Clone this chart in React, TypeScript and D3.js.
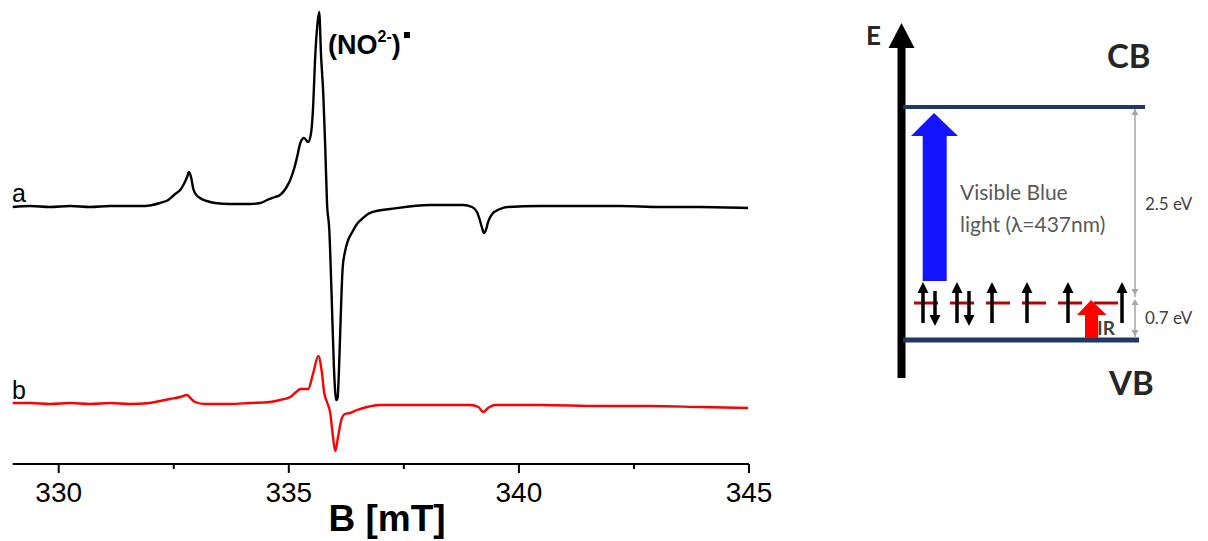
import React from 'react';
import * as d3 from 'd3';

// EPR spectrum, trace a (black)
const fieldA = [329.0, 329.38, 329.81, 330.25, 330.68, 331.12, 331.55, 331.88, 332.03, 332.2, 332.38, 332.53, 332.64, 332.72, 332.79, 332.83, 332.88, 332.92, 332.96, 333.07, 333.22, 333.4, 333.72, 334.16, 334.38, 334.53, 334.7, 334.81, 334.94, 335.03, 335.12, 335.18, 335.25, 335.33, 335.42, 335.48, 335.53, 335.57, 335.62, 335.66, 335.7, 335.75, 335.79, 335.83, 335.88, 335.93, 335.98, 336.03, 336.06, 336.09, 336.14, 336.17, 336.22, 336.29, 336.38, 336.48, 336.59, 336.72, 336.9, 337.2, 338.07, 338.79, 338.98, 339.09, 339.15, 339.2, 339.24, 339.29, 339.33, 339.42, 339.59, 339.75, 340.46, 341.33, 342.2, 343.07, 343.94, 344.98];
const intensityA = [0, 1, 0, 1, 0, 1, 1, 1, 2, 4, 7, 13, 17, 23, 30, 35, 29, 19, 14, 9, 6, 4, 3, 3, 4, 7, 10, 12, 19, 27, 39, 50, 64, 69, 65, 73, 102, 147, 182, 195, 152, 112, 62, 4, -23, -88, -160, -193, -191, -163, -93, -61, -45, -33, -25, -17, -12, -7, -4, -2, 2, 2, 0, -5, -13, -21, -26, -22, -15, -7, -2, 0, 1, 1, 1, 0, 0, -1];

// EPR spectrum, trace b (red)
const fieldB = [329.0, 329.38, 329.81, 330.25, 330.68, 331.12, 331.55, 331.98, 332.2, 332.42, 332.64, 332.79, 332.86, 332.96, 333.18, 333.72, 334.16, 334.59, 334.81, 335.03, 335.16, 335.25, 335.42, 335.53, 335.64, 335.72, 335.77, 335.83, 335.9, 335.96, 336.01, 336.07, 336.14, 336.22, 336.33, 336.48, 336.7, 336.98, 337.42, 338.29, 338.94, 339.12, 339.22, 339.33, 339.48, 340.46, 341.77, 342.86, 343.94, 344.98];
const intensityB = [1, 1, 0, 1, 0, 1, 0, 1, 3, 5, 7, 9, 6, 2, 0, 0, 1, 2, 4, 7, 12, 15, 15, 31, 48, 31, 11, 2, -9, -33, -47, -33, -16, -10, -9, -6, -3, -1, -1, -1, -1, -3, -8, -4, -1, -1, -2, -2, -3, -4];

const traceOffsets = [257, 60];
const traceLabels = ['a', 'b'];
const traceColors = ['#000000', '#ff0000'];

const majorTicks = [330, 335, 340, 345];
const minorTicks = [332.5, 337.5, 342.5];

// Energy diagram (schematic)
const bandGap = 2.5;
const trapLevel = 0.7;
const electronSlots = [929, 963, 992, 1027, 1068, 1122];
const electronSpins = ['pair', 'pair', 'up', 'up', 'up', 'up'];

export default function App() {
  const x = d3.scaleLinear().domain([329, 345]).range([12.7, 749]);
  const y = d3.scaleLinear().domain([0, 450]).range([464, 14]);
  const line = d3
    .line<[number, number]>()
    .x((d) => x(d[0]))
    .y((d) => y(d[1]))
    .curve(d3.curveMonotoneX);

  const traces = [
    fieldA.map((f, i) => [f, intensityA[i] + traceOffsets[0]] as [number, number]),
    fieldB.map((f, i) => [f, intensityB[i] + traceOffsets[1]] as [number, number]),
  ];

  // energy scale (schematic, piecewise)
  const cb = trapLevel + bandGap;
  const E = d3.scaleLinear().domain([-0.5, 0, trapLevel, cb, 4.2]).range([378, 340, 303, 107, 23]);
  const axisX = 901.5;
  const bandX0 = 903;
  const yCB = E(cb);
  const yVB = E(0);
  const yTrap = E(trapLevel);
  const dimX = 1135;
  const grey = '#a6a6a6';

  const upArrow = (cx: number, key: string) => (
    <g key={key}>
      <line x1={cx} x2={cx} y1={yTrap + 20} y2={yTrap - 12} stroke="#000" strokeWidth={3.5} />
      <path d={`M${cx},${yTrap - 21} L${cx - 5.5},${yTrap - 10} L${cx + 5.5},${yTrap - 10} Z`} fill="#000" />
    </g>
  );
  const downArrow = (cx: number, key: string) => (
    <g key={key}>
      <line x1={cx} x2={cx} y1={yTrap - 12} y2={yTrap + 14} stroke="#000" strokeWidth={3.5} />
      <path d={`M${cx},${yTrap + 23} L${cx - 5.5},${yTrap + 12} L${cx + 5.5},${yTrap + 12} Z`} fill="#000" />
    </g>
  );

  const smallHead = (cx: number, cy: number, dir: number, key: string) => (
    <path key={key} d={`M${cx},${cy} L${cx - 3.5},${cy + dir * 6} L${cx + 3.5},${cy + dir * 6} Z`} fill={grey} />
  );

  return (
    <svg
      width={1208}
      height={541}
      style={{ position: 'absolute', left: 0, top: 0, background: '#fff' }}
      fontFamily="'Liberation Sans', Arial, sans-serif"
    >
      <rect width={1208} height={541} fill="#fff" />

      {/* traces */}
      {traces.map((t, i) => (
        <path key={i} d={line(t) || ''} fill="none" stroke={traceColors[i]} strokeWidth={2.4} strokeLinejoin="round" />
      ))}

      {/* trace labels */}
      <text x={12} y={202} fontSize={25} fill="#000">{traceLabels[0]}</text>
      <text x={12} y={399} fontSize={25} fill="#000">{traceLabels[1]}</text>

      {/* annotation */}
      <text x={328} y={54} fontSize={27} fontWeight="bold" fill="#000">
        (NO<tspan fontSize={16} dy={-12}>2-</tspan><tspan dy={12}>)</tspan>
      </text>
      <rect x={404} y={32} width={6} height={6} fill="#000" />

      {/* x axis */}
      <line x1={x(329)} x2={x(345)} y1={464} y2={464} stroke="#000" strokeWidth={2} />
      {majorTicks.map((t) => (
        <g key={t}>
          <line x1={x(t)} x2={x(t)} y1={464} y2={473} stroke="#000" strokeWidth={2} />
          <text x={x(t)} y={502} fontSize={28} textAnchor="middle" fill="#000">{t}</text>
        </g>
      ))}
      {minorTicks.map((t) => (
        <line key={t} x1={x(t)} x2={x(t)} y1={464} y2={469} stroke="#000" strokeWidth={2} />
      ))}
      <text x={387} y={531} fontSize={37} fontWeight="bold" textAnchor="middle" fill="#000">B [mT]</text>

      {/* energy diagram */}
      <g fontFamily="Lato, 'Open Sans', sans-serif">
        <rect x={axisX - 4} y={E(4.2) + 24} width={8} height={E(-0.5) - E(4.2) - 24} fill="#000" />
        <path d={`M${axisX},${E(4.2)} L${axisX - 13},${E(4.2) + 25} L${axisX + 13},${E(4.2) + 25} Z`} fill="#000" />
        <text x={866} y={45} fontSize={26} fontWeight="bold" fill="#262626">E</text>

        <line x1={bandX0} x2={1145} y1={yCB} y2={yCB} stroke="#1f3864" strokeWidth={4} />
        <line x1={bandX0} x2={1139} y1={yVB} y2={yVB} stroke="#1f3864" strokeWidth={5} />
        <text x={1107} y={68} fontSize={33} fontWeight="bold" fill="#262626">CB</text>
        <text x={1109} y={395} fontSize={33} fontWeight="bold" fill="#262626">VB</text>

        {/* dimension lines */}
        <line x1={dimX} x2={dimX} y1={yCB + 2} y2={yTrap - 6} stroke={grey} strokeWidth={1.5} />
        {smallHead(dimX, yCB + 2, 1, 'h1')}
        {smallHead(dimX, yTrap - 8, -1, 'h2')}
        <line x1={dimX} x2={dimX} y1={yTrap} y2={yVB - 2} stroke={grey} strokeWidth={1.5} />
        {smallHead(dimX, yTrap - 4, 1, 'h3')}
        {smallHead(dimX, yVB - 4, -1, 'h4')}
        <text x={1145} y={210} fontSize={17} fill="#404040">{bandGap.toFixed(1)} eV</text>
        <text x={1145} y={324} fontSize={17} fill="#404040">{trapLevel.toFixed(1)} eV</text>

        {/* blue excitation arrow */}
        <path
          d={`M934,${yCB + 6} L911,${yCB + 29} L922.7,${yCB + 29} L922.7,281 L946.7,281 L946.7,${yCB + 29} L958,${yCB + 29} Z`}
          fill="#1414ff"
        />
        <text x={960} y={200} fontSize={21} fill="#595959">Visible Blue</text>
        <text x={960} y={232} fontSize={21} fill="#595959">light (λ=437nm)</text>

        {/* trap level */}
        <line x1={914} x2={1120} y1={yTrap} y2={yTrap} stroke="#c00000" strokeWidth={3} strokeDasharray="24,12" />

        {/* electrons */}
        {electronSlots.map((cx, i) =>
          electronSpins[i] === 'pair' ? (
            <g key={i}>
              {upArrow(cx - 6, 'u')}
              {downArrow(cx + 6, 'd')}
            </g>
          ) : (
            upArrow(cx, 's' + i)
          )
        )}

        {/* IR arrow */}
        <path
          d={`M1091,${yTrap - 3} L1077,${yTrap + 12} L1085,${yTrap + 12} L1085,${yVB - 2} L1098,${yVB - 2} L1098,${yTrap + 12} L1106.7,${yTrap + 12} Z`}
          fill="#ff0000"
        />
        <text x={1097} y={335} fontSize={19} fontWeight="bold" fill="#404040">IR</text>
      </g>
    </svg>
  );
}
